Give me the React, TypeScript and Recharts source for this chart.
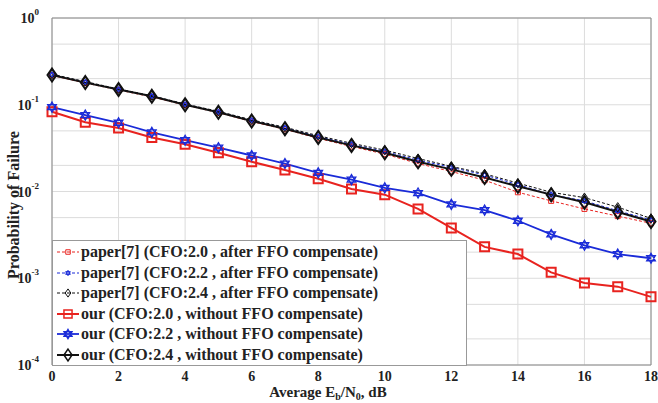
import {
  CartesianGrid,
  Line,
  LineChart,
  ReferenceLine,
  XAxis,
  YAxis,
} from 'recharts'

const snr = [0, 1, 2, 3, 4, 5, 6, 7, 8, 9, 10, 11, 12, 13, 14, 15, 16, 17, 18]
const xTicks = [0, 2, 4, 6, 8, 10, 12, 14, 16, 18]
const yTicks = [1e-4, 1e-3, 1e-2, 1e-1, 1]

const paper20 = [0.218, 0.178, 0.148, 0.123, 0.099, 0.081, 0.064, 0.052, 0.041, 0.033, 0.027, 0.021, 0.017, 0.0135, 0.0098, 0.0078, 0.0063, 0.0052, 0.0043]
const paper22 = [0.222, 0.182, 0.15, 0.126, 0.101, 0.083, 0.066, 0.054, 0.043, 0.035, 0.029, 0.023, 0.019, 0.0155, 0.012, 0.0092, 0.0078, 0.006, 0.0047]
const paper24 = [0.225, 0.185, 0.152, 0.127, 0.102, 0.084, 0.067, 0.055, 0.044, 0.036, 0.03, 0.024, 0.0195, 0.016, 0.0125, 0.0098, 0.0085, 0.0066, 0.0049]
const our20 = [0.083, 0.063, 0.054, 0.042, 0.035, 0.028, 0.022, 0.0177, 0.014, 0.0107, 0.0092, 0.0063, 0.0038, 0.0023, 0.0019, 0.00117, 0.00088, 0.0008, 0.00061]
const our22 = [0.094, 0.076, 0.062, 0.048, 0.039, 0.032, 0.026, 0.021, 0.0164, 0.0137, 0.011, 0.0096, 0.0071, 0.0061, 0.0046, 0.0032, 0.0024, 0.0019, 0.0017]
const our24 = [0.22, 0.18, 0.15, 0.125, 0.1, 0.082, 0.065, 0.053, 0.042, 0.034, 0.028, 0.022, 0.018, 0.0145, 0.0115, 0.0092, 0.0075, 0.0058, 0.0045]

const data = snr.map((x, i) => ({
  x,
  paper20: paper20[i],
  paper22: paper22[i],
  paper24: paper24[i],
  our20: our20[i],
  our22: our22[i],
  our24: our24[i],
}))

// log grid: 1..9 x each decade
const gridY: number[] = []
for (let d = -4; d < 0; d++) {
  for (let k = 1; k <= 9; k++) gridY.push(k * Math.pow(10, d))
}
gridY.push(1)

type Marker = 'square' | 'hexagram' | 'diamond'

const series: {
  key: string
  name: string
  color: string
  dash?: string
  width: number
  marker: Marker
  size: number
}[] = [
  { key: 'paper20', name: 'paper[7] (CFO:2.0 , after FFO compensate)', color: '#e8231f', dash: '3 2', width: 1, marker: 'square', size: 2.5 },
  { key: 'paper22', name: 'paper[7] (CFO:2.2 , after FFO compensate)', color: '#1a2bd8', dash: '3 2', width: 1, marker: 'hexagram', size: 3 },
  { key: 'paper24', name: 'paper[7] (CFO:2.4 , after FFO compensate)', color: '#111', dash: '3 2', width: 1, marker: 'diamond', size: 3.5 },
  { key: 'our20', name: 'our (CFO:2.0 , without FFO compensate)', color: '#e8231f', width: 2, marker: 'square', size: 4.5 },
  { key: 'our22', name: 'our (CFO:2.2 , without FFO compensate)', color: '#1a2bd8', width: 1.8, marker: 'hexagram', size: 5 },
  { key: 'our24', name: 'our (CFO:2.4 , without FFO compensate)', color: '#111', width: 2, marker: 'diamond', size: 5 },
]

function markerPath(m: Marker, cx: number, cy: number, s: number) {
  if (m === 'square') {
    return `M${cx - s},${cy - s}H${cx + s}V${cy + s}H${cx - s}Z`
  }
  if (m === 'diamond') {
    return `M${cx},${cy - s * 1.3}L${cx + s * 0.9},${cy}L${cx},${cy + s * 1.3}L${cx - s * 0.9},${cy}Z`
  }
  let p = ''
  for (let t = 0; t < 2; t++) {
    for (let j = 0; j < 3; j++) {
      const a = (Math.PI / 2) * (t === 0 ? -1 : 1) + (j * 2 * Math.PI) / 3
      p += `${j === 0 ? 'M' : 'L'}${cx + s * Math.cos(a)},${cy + s * Math.sin(a)}`
    }
    p += 'Z'
  }
  return p
}

function makeDot(m: Marker, s: number, color: string, w: number) {
  const sw = m === 'hexagram' ? Math.min(w, 1.3) : w
  return (props: any) => {
    const { cx, cy, index } = props
    if (cx == null || cy == null) return <g key={index} />
    return (
      <path
        key={index}
        d={markerPath(m, cx, cy, s)}
        fill="none"
        stroke={color}
        strokeWidth={sw}
      />
    )
  }
}

const font = '"Liberation Serif", "Times New Roman", serif'

function YTick(props: any) {
  const { x, y, payload } = props
  const exp = Math.round(Math.log10(payload.value))
  return (
    <text x={x - 5} y={y + 5} textAnchor="end" fontFamily={font} fontWeight="bold" fontSize={14} fill="#222">
      10
      <tspan dy={-8} fontSize={9}>{exp === 0 ? '0' : `-${-exp}`}</tspan>
    </text>
  )
}

function LegendBox() {
  return (
    <div
      style={{
        position: 'absolute',
        left: 52,
        top: 240,
        width: 415,
        height: 126,
        border: '1px solid #999',
        background: '#fff',
        boxSizing: 'border-box',
        paddingTop: 1,
      }}
    >
      {series.map((s) => (
        <div key={s.key} style={{ display: 'flex', alignItems: 'center', height: 20.5 }}>
          <svg width={28} height={20} style={{ flex: 'none' }}>
            <line x1={4} x2={26} y1={10} y2={10} stroke={s.color} strokeWidth={s.width} strokeDasharray={s.dash} />
            <path d={markerPath(s.marker, 15, 10, s.size * 0.9)} fill="none" stroke={s.color} strokeWidth={Math.min(s.width, 1.5)} />
          </svg>
          <span style={{ fontFamily: font, fontWeight: 'bold', fontSize: 16, color: '#222', whiteSpace: 'nowrap' }}>
            {s.name}
          </span>
        </div>
      ))}
    </div>
  )
}

const subStyle = { fontSize: 10, lineHeight: 0, verticalAlign: 'baseline', position: 'relative' as const, top: 3 }

export default function App() {
  return (
    <div style={{ position: 'absolute', left: 0, top: 0, width: 658, height: 403, background: '#fff', overflow: 'hidden' }}>
      <LineChart width={658} height={403} data={data} margin={{ top: 18, right: 7, left: 0, bottom: 0 }}>
        <CartesianGrid horizontalValues={gridY} verticalValues={xTicks} stroke="#dcdcdc" />
        <XAxis
          type="number"
          dataKey="x"
          domain={[0, 18]}
          ticks={xTicks}
          height={38}
          stroke="#888"
          tickLine={false}
          tick={{ fontFamily: font, fontWeight: 'bold', fontSize: 14, fill: '#222' }}
          tickMargin={0}
        />
        <YAxis
          scale="log"
          domain={[1e-4, 1]}
          ticks={yTicks}
          allowDataOverflow
          width={52}
          stroke="#888"
          tickLine={false}
          tick={<YTick />}
        />
        <ReferenceLine y={1} stroke="#888" />
        <ReferenceLine x={18} stroke="#888" />
        {series.map((s) => (
          <Line
            key={s.key}
            dataKey={s.key}
            name={s.name}
            stroke={s.color}
            strokeWidth={s.width}
            strokeDasharray={s.dash}
            dot={makeDot(s.marker, s.size, s.color, s.width)}
            activeDot={false}
            isAnimationActive={false}
          />
        ))}
      </LineChart>
      <LegendBox />
      <div
        style={{
          position: 'absolute',
          left: 14,
          top: 205,
          transform: 'translate(-50%, -50%) rotate(-90deg)',
          fontFamily: font,
          fontWeight: 'bold',
          fontSize: 16,
          color: '#222',
          whiteSpace: 'nowrap',
        }}
      >
        Probability of Failure
      </div>
      <div
        style={{
          position: 'absolute',
          left: 328,
          top: 385,
          transform: 'translateX(-50%)',
          fontFamily: font,
          fontWeight: 'bold',
          fontSize: 15,
          lineHeight: '14px',
          color: '#222',
          whiteSpace: 'nowrap',
        }}
      >
        Average E<span style={subStyle}>b</span>/N<span style={subStyle}>0</span>, dB
      </div>
    </div>
  )
}
